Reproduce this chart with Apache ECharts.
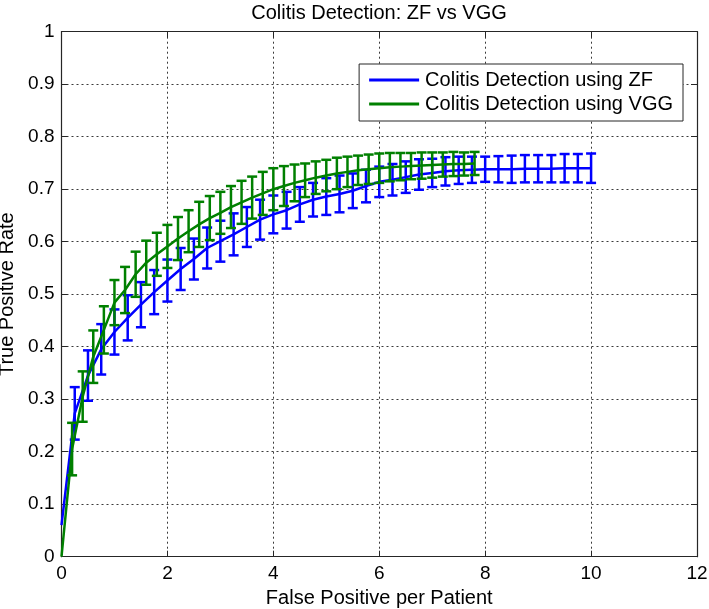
<!DOCTYPE html>
<html>
<head>
<meta charset="utf-8">
<script src="https://cdn.jsdelivr.net/npm/echarts@6/dist/echarts.min.js"></script>
<style>
html,body{margin:0;padding:0;background:#fff;}
#chart{width:709px;height:609px;}
</style>
</head>
<body>
<div id="chart"></div>
<script>
// ---- Data ----
const titleText = 'Colitis Detection: ZF vs VGG';
const xLabel = 'False Positive per Patient';
const yLabel = 'True Positive Rate';
const seriesNames = ['Colitis Detection using ZF', 'Colitis Detection using VGG'];

const zfX = [0,0.25,0.5,0.75,1,1.25,1.5,1.75,2,2.25,2.5,2.75,3,3.25,3.5,3.75,4,4.25,4.5,4.75,5,5.25,5.5,5.75,6,6.25,6.5,6.75,7,7.25,7.5,7.75,8,8.25,8.5,8.75,9,9.25,9.5,9.75,10];
const zfY = [0.06,0.273,0.345,0.395,0.428,0.455,0.48,0.504,0.526,0.548,0.567,0.588,0.601,0.614,0.628,0.642,0.652,0.66,0.671,0.68,0.686,0.691,0.697,0.706,0.714,0.718,0.723,0.728,0.731,0.734,0.736,0.737,0.738,0.738,0.738,0.739,0.739,0.739,0.74,0.74,0.74];
const zfErr = [0,0.05,0.048,0.048,0.043,0.043,0.043,0.042,0.04,0.04,0.039,0.039,0.039,0.04,0.038,0.038,0.036,0.035,0.033,0.032,0.035,0.035,0.033,0.031,0.029,0.03,0.03,0.029,0.027,0.027,0.026,0.025,0.024,0.025,0.026,0.026,0.026,0.026,0.027,0.027,0.028];

const vggX = [0,0.2,0.4,0.6,0.8,1,1.2,1.4,1.6,1.8,2,2.2,2.4,2.6,2.8,3,3.2,3.4,3.6,3.8,4,4.2,4.4,4.6,4.8,5,5.2,5.4,5.6,5.8,6,6.2,6.4,6.6,6.8,7,7.2,7.4,7.6,7.8];
const vggY = [0,0.205,0.305,0.381,0.432,0.484,0.508,0.538,0.56,0.576,0.591,0.606,0.62,0.633,0.645,0.655,0.666,0.675,0.684,0.692,0.7,0.706,0.712,0.717,0.722,0.726,0.73,0.733,0.736,0.738,0.74,0.742,0.743,0.744,0.745,0.746,0.747,0.748,0.748,0.749];
const vggErr = [0,0.05,0.048,0.05,0.045,0.043,0.044,0.043,0.042,0.041,0.041,0.041,0.04,0.043,0.042,0.04,0.04,0.041,0.04,0.041,0.04,0.038,0.035,0.032,0.031,0.03,0.03,0.029,0.028,0.028,0.028,0.027,0.026,0.025,0.025,0.024,0.023,0.023,0.022,0.022];

const xTicks = [0,2,4,6,8,10,12];
const yTicks = [0,0.1,0.2,0.3,0.4,0.5,0.6,0.7,0.8,0.9,1];

// ---- Styles ----
const FONT = '"Liberation Sans", Arial, sans-serif';
const BLUE = '#0000ff';
const GREEN = '#008000';
const AXIS_COLOR = '#262626';
const FS = 19;

function pairs(xs, ys) { return xs.map((x, i) => [x, ys[i]]); }
function triples(xs, ys, es) { return xs.map((x, i) => [x, ys[i], es[i]]); }

function errRender(color) {
  return function (params, api) {
    const x = api.value(0), y = api.value(1), e = api.value(2);
    if (!(e > 0)) return { type: 'group', children: [] };
    const top = api.coord([x, y + e]);
    const bot = api.coord([x, y - e]);
    const cap = 5;
    const style = { stroke: color, lineWidth: 2.5, fill: null };
    return {
      type: 'group',
      children: [
        { type: 'line', shape: { x1: top[0], y1: top[1], x2: bot[0], y2: bot[1] }, style: style },
        { type: 'line', shape: { x1: top[0] - cap, y1: top[1], x2: top[0] + cap, y2: top[1] }, style: style },
        { type: 'line', shape: { x1: bot[0] - cap, y1: bot[1], x2: bot[0] + cap, y2: bot[1] }, style: style }
      ]
    };
  };
}

const chart = echarts.init(document.getElementById('chart'), null, { renderer: 'canvas' });

const gridLine = { show: true, lineStyle: { color: '#3a3a3a', type: [2, 3], width: 1 } };

chart.setOption({
  animation: false,
  backgroundColor: '#fff',
  textStyle: { fontFamily: FONT },
  graphic: [{
    type: 'text', x: 379, y: 13, silent: true,
    style: { text: titleText, fontFamily: FONT, fontSize: 20, fill: '#000', align: 'center', verticalAlign: 'middle' }
  }],
  legend: {
    data: seriesNames,
    orient: 'vertical',
    right: 26,
    top: 64,
    backgroundColor: '#fff',
    borderColor: AXIS_COLOR,
    borderWidth: 1,
    padding: [6, 10, 7, 10],
    itemGap: 4,
    itemWidth: 50,
    itemHeight: 3,
    icon: 'rect',
    textStyle: { fontFamily: FONT, fontSize: 20, color: '#000', padding: [0, 0, 0, 1] }
  },
  grid: { left: 61.5, right: 12, top: 31.7, bottom: 52.3, containLabel: false, outerBoundsMode: 'none' },
  xAxis: [
    {
      type: 'value', min: 0, max: 12, interval: 2, position: 'bottom',
      name: xLabel, nameLocation: 'middle', nameGap: 32,
      nameTextStyle: { fontFamily: FONT, fontSize: 20, color: '#000' },
      axisLine: { show: true, onZero: false, lineStyle: { color: AXIS_COLOR, width: 1.2 } },
      axisTick: { show: true, inside: true, length: 6, lineStyle: { color: AXIS_COLOR } },
      axisLabel: { fontFamily: FONT, fontSize: FS, color: '#000', margin: 8, formatter: v => String(v) },
      splitLine: gridLine
    },
    {
      type: 'value', min: 0, max: 12, interval: 2, position: 'top',
      axisLine: { show: true, onZero: false, lineStyle: { color: AXIS_COLOR, width: 1.2 } },
      axisTick: { show: true, inside: true, length: 6, lineStyle: { color: AXIS_COLOR } },
      axisLabel: { show: false },
      splitLine: { show: false }
    }
  ],
  yAxis: [
    {
      type: 'value', min: 0, max: 1, interval: 0.1, position: 'left',
      name: yLabel, nameLocation: 'middle', nameGap: 38,
      nameTextStyle: { fontFamily: FONT, fontSize: 20, color: '#000' },
      axisLine: { show: true, onZero: false, lineStyle: { color: AXIS_COLOR, width: 1.2 } },
      axisTick: { show: true, inside: true, length: 6, lineStyle: { color: AXIS_COLOR } },
      axisLabel: { fontFamily: FONT, fontSize: FS, color: '#000', margin: 7, formatter: v => String(+v.toFixed(1)) },
      splitLine: gridLine
    },
    {
      type: 'value', min: 0, max: 1, interval: 0.1, position: 'right',
      axisLine: { show: true, onZero: false, lineStyle: { color: AXIS_COLOR, width: 1.2 } },
      axisTick: { show: true, inside: true, length: 6, lineStyle: { color: AXIS_COLOR } },
      axisLabel: { show: false },
      splitLine: { show: false }
    }
  ],
  series: [
    {
      name: seriesNames[0], type: 'line', data: pairs(zfX, zfY),
      showSymbol: false, symbol: 'none', smooth: false,
      lineStyle: { color: BLUE, width: 2.5 }, itemStyle: { color: BLUE }, z: 2
    },
    {
      name: 'zfErr', type: 'custom', data: triples(zfX, zfY, zfErr),
      renderItem: errRender(BLUE), encode: { x: 0, y: 1 }, z: 3, silent: true
    },
    {
      name: seriesNames[1], type: 'line', data: pairs(vggX, vggY),
      showSymbol: false, symbol: 'none', smooth: false,
      lineStyle: { color: GREEN, width: 2.5 }, itemStyle: { color: GREEN }, z: 4
    },
    {
      name: 'vggErr', type: 'custom', data: triples(vggX, vggY, vggErr),
      renderItem: errRender(GREEN), encode: { x: 0, y: 1 }, z: 5, silent: true
    }
  ]
});
</script>
</body>
</html>
